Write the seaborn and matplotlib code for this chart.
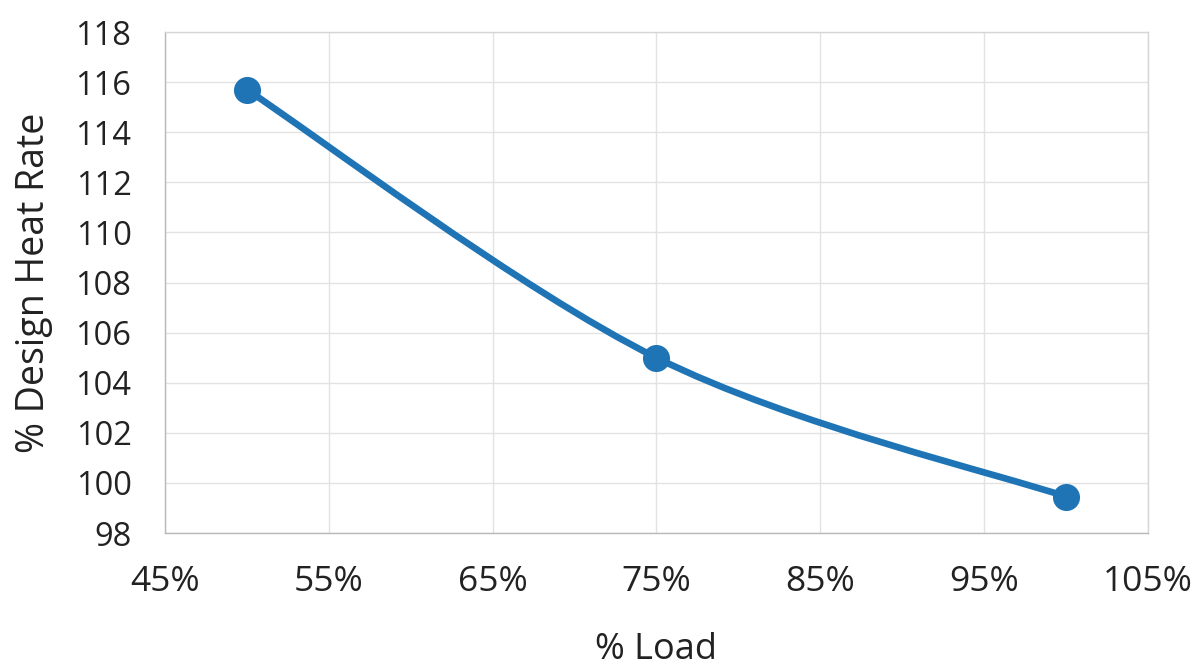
import numpy as np
import pandas as pd
import seaborn as sns
import matplotlib
matplotlib.use("Agg")
import matplotlib.pyplot as plt
from matplotlib.path import Path
from matplotlib.patches import PathPatch
from matplotlib.ticker import FuncFormatter

load_pct = [50, 75, 100]
heat_rate = [115.7, 105.0, 99.45]
x_ticks = [45, 55, 65, 75, 85, 95, 105]
y_ticks = [98, 100, 102, 104, 106, 108, 110, 112, 114, 116, 118]

sns.set_theme(style="white")
plt.rcParams['font.family'] = ['Open Sans', 'DejaVu Sans']

color = "#1f74b5"
df = pd.DataFrame({"load": load_pct, "hr": heat_rate})

fig = plt.figure(figsize=(11.95, 6.68), dpi=100)
ax = fig.add_axes([0.138, 0.202, 0.8227, 0.750])

# smoothed line (Excel-style) as Bezier path through the data points
pts = np.column_stack([df["load"].to_numpy(float), df["hr"].to_numpy(float)])
verts = [tuple(pts[0])]
codes = [Path.MOVETO]
n = len(pts)
for i in range(n - 1):
    p0 = pts[i - 1] if i > 0 else pts[i]
    p1 = pts[i]
    p2 = pts[i + 1]
    p3 = pts[i + 2] if i + 2 < n else pts[i + 1]
    c1 = p1 + (p2 - p0) / 6.0
    c2 = p2 - (p3 - p1) / 6.0
    verts += [tuple(c1), tuple(c2), tuple(p2)]
    codes += [Path.CURVE4] * 3
ax.add_patch(PathPatch(Path(verts, codes), facecolor="none", edgecolor=color,
                       lw=4.8, capstyle="round", joinstyle="round", zorder=3))

sns.scatterplot(data=df, x="load", y="hr", ax=ax, color=color, s=380,
                edgecolor=color, linewidth=0, zorder=4, legend=False)

ax.set_xlim(45, 105)
ax.set_ylim(98, 118)
ax.set_xticks(x_ticks)
ax.set_yticks(y_ticks)
ax.xaxis.set_major_formatter(FuncFormatter(lambda v, p: f"{v:.0f}%"))
ax.grid(True, color="#e2e2e2", lw=1.0)
for s in ax.spines.values():
    s.set_color("#d6d6d6")
    s.set_linewidth(1.0)
ax.spines["left"].set_color("#b8b8b8")
ax.spines["bottom"].set_color("#b8b8b8")
ax.tick_params(axis="x", labelsize=25.5, colors="#222222", length=0, pad=23)
ax.tick_params(axis="y", labelsize=23.5, colors="#222222", length=0, pad=24)
ax.set_xlabel("% Load", fontsize=26, color="#222222", labelpad=24)
ax.set_ylabel("% Design Heat Rate", fontsize=27, color="#222222", labelpad=16)

fig.savefig("out.png", dpi=100)
